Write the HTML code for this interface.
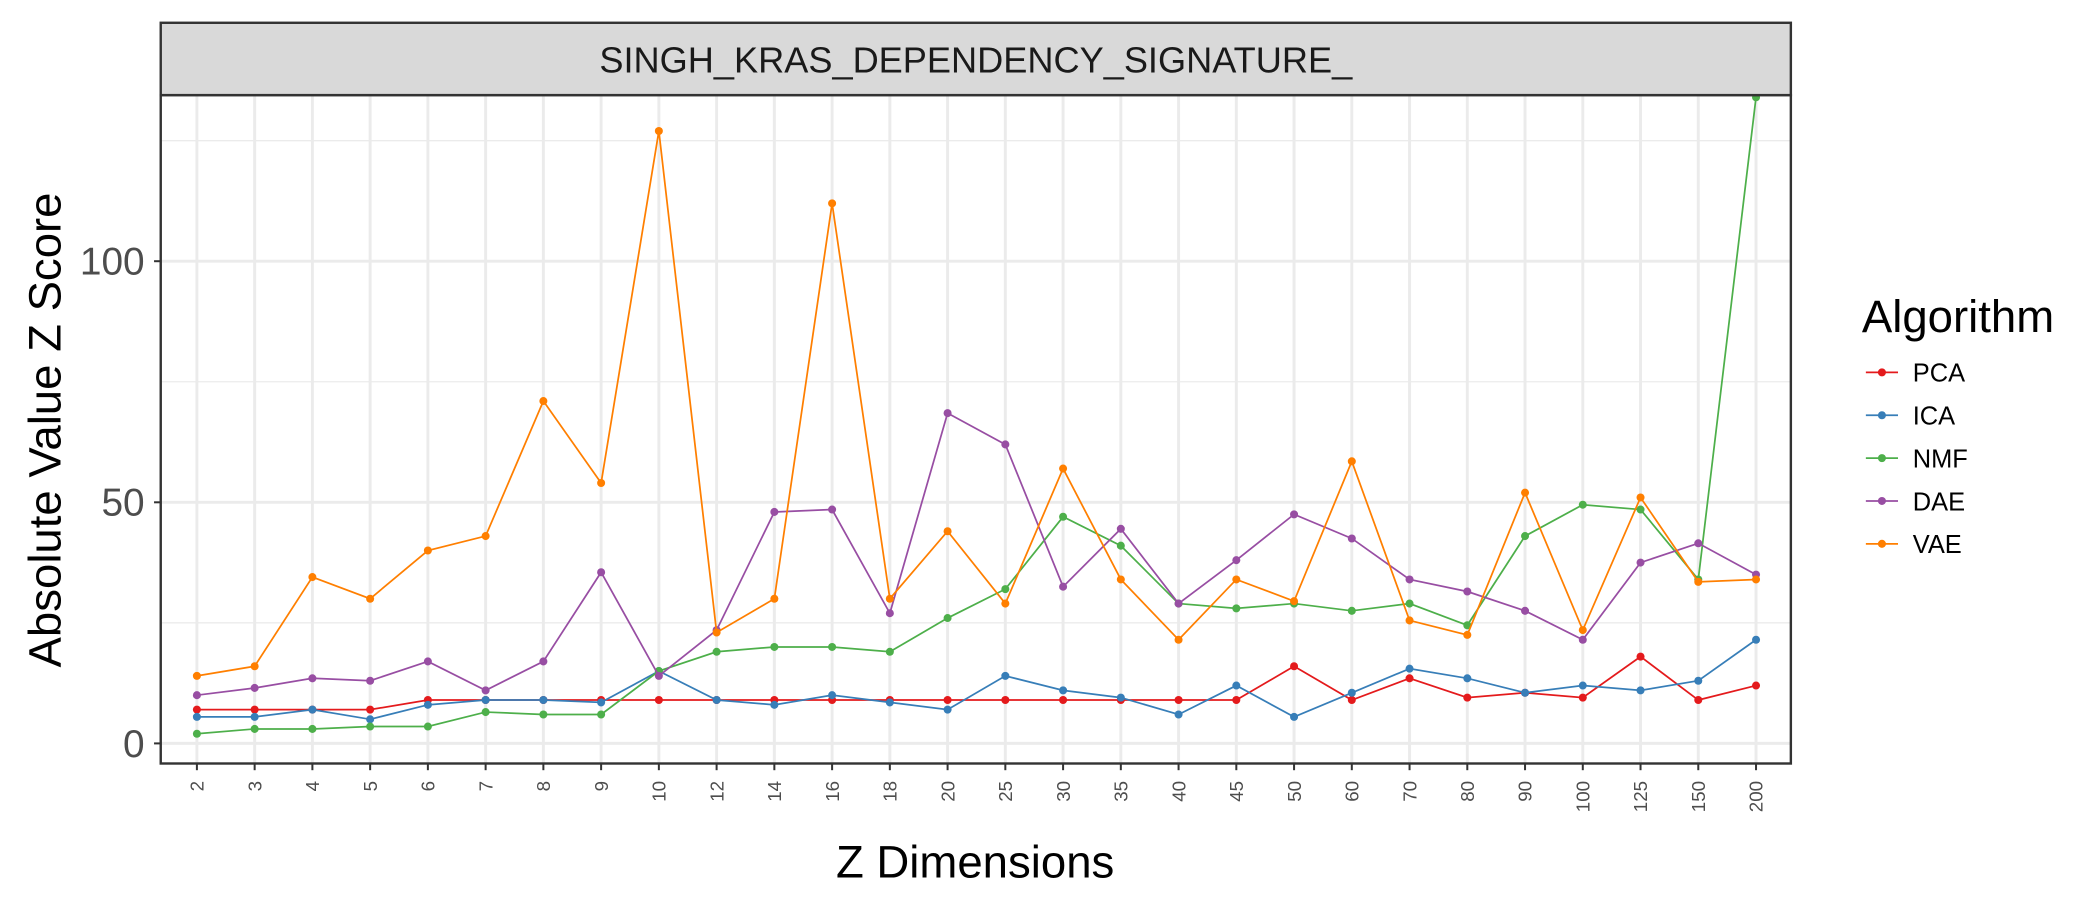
<!DOCTYPE html>
<html><head><meta charset="utf-8"><style>html,body{margin:0;padding:0;background:#fff}svg{display:block}</style></head>
<body>
<svg id="chart" width="2100" height="900" viewBox="0 0 1567.8 671.9" xmlns="http://www.w3.org/2000/svg" font-family="Liberation Sans, sans-serif"></svg>
<script>
const categories=["2","3","4","5","6","7","8","9","10","12","14","16","18","20","25","30","35","40","45","50","60","70","80","90","100","125","150","200"];
const pcaValues=[7,7,7,7,9,9,9,9,9,9,9,9,9,9,9,9,9,9,9,16,9,13.5,9.5,10.5,9.5,18,9,12];
const icaValues=[5.5,5.5,7,5,8,9,9,8.5,15,9,8,10,8.5,7,14,11,9.5,6,12,5.5,10.5,15.5,13.5,10.5,12,11,13,21.5];
const nmfValues=[2,3,3,3.5,3.5,6.5,6,6,15,19,20,20,19,26,32,47,41,29,28,29,27.5,29,24.5,43,49.5,48.5,34,134];
const daeValues=[10,11.5,13.5,13,17,11,17,35.5,14,23.5,48,48.5,27,68.5,62,32.5,44.5,29,38,47.5,42.5,34,31.5,27.5,21.5,37.5,41.5,35];
const vaeValues=[14,16,34.5,30,40,43,71,54,127,23,30,112,30,44,29,57,34,21.5,34,29.5,58.5,25.5,22.5,52,23.5,51,33.5,34];
const seriesNames=["PCA","ICA","NMF","DAE","VAE"];
const seriesColors=["#e41a1c","#377eb8","#4daf4a","#984ea3","#ff7f00"];
const yTicks=[0,50,100];

const svg=document.getElementById('chart');
const NS='http://www.w3.org/2000/svg';
const L=120,R=1337,T=71,B=570;
function x(i){return 147+i*(1311-147)/(categories.length-1);}
function y(v){return 555-v*3.6;}
function mk(tag,attrs,parent){const e=document.createElementNS(NS,tag);for(const k in attrs)e.setAttribute(k,attrs[k]);(parent||svg).appendChild(e);return e;}

const panel=mk('rect',{x:L,y:T,width:R-L,height:B-T,fill:'#fff'});


const grid=mk('g',{});


for(let v=25;v<=125;v+=50)mk('line',{x1:L,x2:R,y1:y(v),y2:y(v),stroke:'#ebebeb','stroke-width':1},grid);
yTicks.forEach(v=>mk('line',{x1:L,x2:R,y1:y(v),y2:y(v),stroke:'#ebebeb','stroke-width':2.2},grid));
categories.forEach((c,i)=>mk('line',{x1:x(i),x2:x(i),y1:T,y2:B,stroke:'#ebebeb','stroke-width':2.2},grid));

const all=[pcaValues,icaValues,nmfValues,daeValues,vaeValues];
all.forEach((vals,s)=>{
  const g=mk('g',{});
  
  
  mk('polyline',{points:vals.map((v,i)=>x(i)+','+y(v)).join(' '),fill:'none',stroke:seriesColors[s],'stroke-width':1.3},g);
  vals.forEach((v,i)=>{
    const p=mk('circle',{cx:x(i),cy:y(v),r:3,fill:seriesColors[s]},g);
    
    
  });
});
const border=mk('rect',{x:L,y:T,width:R-L,height:B-T,fill:'none',stroke:'#333','stroke-width':1.8});



const strip=mk('rect',{x:L,y:17,width:R-L,height:T-17,fill:'#d9d9d9',stroke:'#333','stroke-width':1.8});


const st=mk('text',{x:(L+R)/2,y:54,'text-anchor':'middle','font-size':27,fill:'#1a1a1a'});
st.textContent='SINGH_KRAS_DEPENDENCY_SIGNATURE_';



yTicks.forEach(v=>{
  mk('line',{x1:L-5,x2:L,y1:y(v),y2:y(v),stroke:'#333','stroke-width':1.5});
  const t=mk('text',{x:L-12,y:y(v)+10,'text-anchor':'end','font-size':29,fill:'#4d4d4d'});
  t.textContent=v;
  
  
});
categories.forEach((c,i)=>{
  mk('line',{x1:x(i),x2:x(i),y1:B,y2:B+5,stroke:'#333','stroke-width':1.5});
  const t=mk('text',{x:0,y:0,'text-anchor':'end','font-size':14,fill:'#4d4d4d',transform:`translate(${x(i)+5},${B+13}) rotate(-90)`});
  t.textContent=c;
  
  
});
const xt=mk('text',{x:728,y:655,'text-anchor':'middle','font-size':34,fill:'#000'});
xt.textContent='Z Dimensions';


const yt=mk('text',{x:0,y:0,'text-anchor':'middle','font-size':34,fill:'#000',transform:'translate(45,321) rotate(-90)'});
yt.textContent='Absolute Value Z Score';



const lg=mk('g',{});


const lt=mk('text',{x:1390,y:248,'font-size':34,fill:'#000'},lg);
lt.textContent='Algorithm';


seriesNames.forEach((n,s)=>{
  const e=mk('g',{},lg);
  
  
  const yy=278+s*32;
  mk('line',{x1:1393,x2:1417,y1:yy,y2:yy,stroke:seriesColors[s],'stroke-width':1.3},e);
  mk('circle',{cx:1405,cy:yy,r:3,fill:seriesColors[s]},e);
  const t=mk('text',{x:1428,y:yy+7,'font-size':19,fill:'#000'},e);
  t.textContent=n;
});
</script>
</body></html>
